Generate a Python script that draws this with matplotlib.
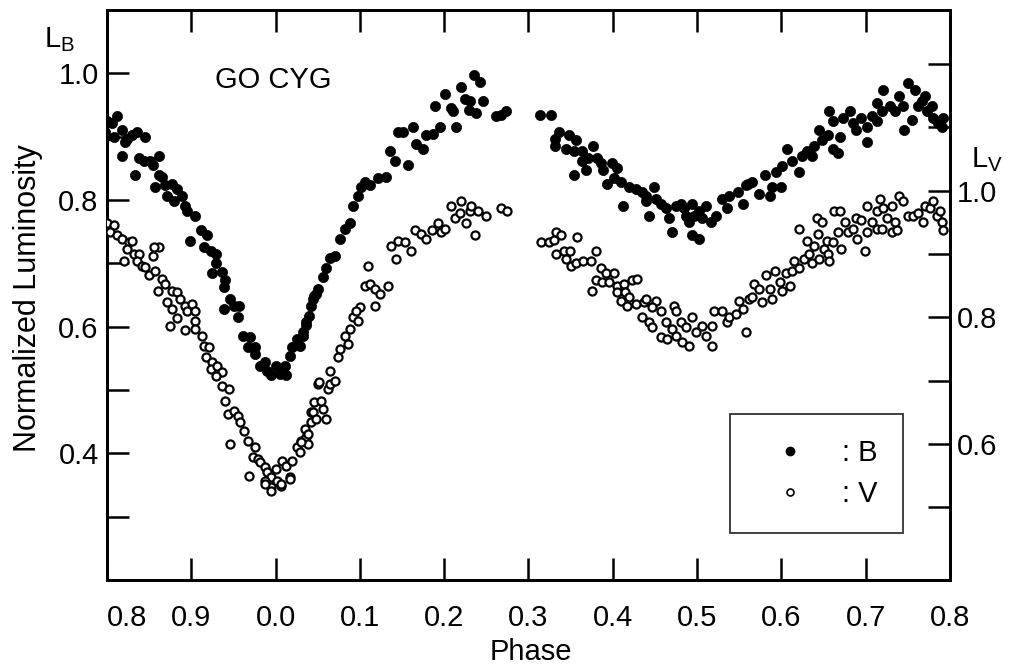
import matplotlib
matplotlib.use('Agg')
import matplotlib.pyplot as plt
from matplotlib.lines import Line2D
from matplotlib.ticker import FixedLocator

plt.rcParams['font.family'] = ['Liberation Sans', 'DejaVu Sans']
plt.rcParams['mathtext.fontset'] = 'custom'
plt.rcParams['mathtext.rm'] = 'Liberation Sans'

# Data: B band (filled), phase and normalized luminosity (left axis)
phase_b = [
    -0.202, -0.200, -0.194, -0.188, -0.182, -0.202, -0.192, -0.176, -0.170, -0.164,
    -0.155, -0.182, -0.179, -0.162, -0.156, -0.149, -0.138, -0.167, -0.146, -0.138,
    -0.135, -0.143, -0.131, -0.123, -0.117, -0.129, -0.120, -0.111, -0.107, -0.105,
    -0.096, -0.101, -0.089, -0.081, -0.085, -0.077, -0.071, -0.071, -0.075, -0.063,
    -0.060, -0.061, -0.054, -0.049, -0.061, -0.043, -0.045, -0.039, -0.030, -0.033,
    -0.024, -0.025, -0.018, -0.013, -0.010, -0.006, 0.000, 0.005, 0.011, 0.012,
    0.017, 0.020, 0.026, 0.032, 0.036, 0.040, 0.044, 0.048, 0.029, 0.032,
    0.036, 0.042, 0.046, 0.050, 0.056, 0.060, 0.065, 0.070, 0.076, 0.082,
    0.088, 0.092, 0.098, 0.101, 0.106, 0.112, 0.121, 0.131, 0.136, 0.142,
    0.157, 0.145, 0.151, 0.163, 0.167, 0.175, 0.179, 0.187, 0.195, 0.189,
    0.201, 0.208, 0.214, 0.211, 0.220, 0.225, 0.231, 0.229, 0.238, 0.235,
    0.243, 0.246, 0.262, 0.267, 0.273,
    0.314, 0.327, 0.336, 0.332, 0.348, 0.356, 0.331, 0.345, 0.354, 0.363,
    0.371, 0.377, 0.363, 0.368, 0.381, 0.386, 0.389, 0.399, 0.405, 0.354,
    0.393, 0.401, 0.410, 0.419, 0.427, 0.435, 0.439, 0.449, 0.440, 0.451,
    0.457, 0.412, 0.443, 0.463, 0.467, 0.470, 0.475, 0.481, 0.485, 0.487,
    0.494, 0.496, 0.490, 0.502, 0.506, 0.511, 0.517, 0.523, 0.494, 0.502,
    0.529, 0.535, 0.538, 0.548, 0.554, 0.560, 0.558, 0.565, 0.574, 0.580,
    0.586, 0.589, 0.600, 0.594, 0.601, 0.607, 0.613, 0.621, 0.624, 0.630,
    0.636, 0.639, 0.645, 0.648, 0.655, 0.657, 0.661, 0.667, 0.669, 0.661,
    0.673, 0.681, 0.685, 0.689, 0.695, 0.701, 0.702, 0.707, 0.713, 0.714,
    0.719, 0.720, 0.729, 0.735, 0.740, 0.744, 0.746, 0.750, 0.755, 0.758,
    0.762, 0.767, 0.770, 0.773, 0.779, 0.780, 0.786, 0.790, 0.792,
]
lum_b = [
    0.908, 0.924, 0.921, 0.932, 0.910, 0.900, 0.900, 0.897, 0.902, 0.908,
    0.900, 0.870, 0.892, 0.866, 0.862, 0.861, 0.870, 0.839, 0.855, 0.839,
    0.837, 0.821, 0.823, 0.826, 0.818, 0.806, 0.798, 0.807, 0.791, 0.782,
    0.775, 0.736, 0.752, 0.744, 0.726, 0.720, 0.715, 0.700, 0.684, 0.687,
    0.673, 0.663, 0.644, 0.633, 0.628, 0.632, 0.616, 0.586, 0.584, 0.568,
    0.568, 0.557, 0.538, 0.545, 0.530, 0.523, 0.538, 0.526, 0.538, 0.523,
    0.554, 0.568, 0.581, 0.592, 0.602, 0.617, 0.644, 0.652, 0.570, 0.586,
    0.608, 0.633, 0.649, 0.660, 0.679, 0.692, 0.708, 0.712, 0.739, 0.755,
    0.763, 0.791, 0.807, 0.821, 0.829, 0.823, 0.834, 0.837, 0.878, 0.861,
    0.855, 0.908, 0.908, 0.916, 0.889, 0.881, 0.902, 0.905, 0.916, 0.949,
    0.968, 0.945, 0.916, 0.940, 0.979, 0.960, 0.957, 0.942, 0.937, 0.997,
    0.987, 0.956, 0.932, 0.934, 0.940,
    0.935, 0.934, 0.908, 0.897, 0.902, 0.894, 0.885, 0.881, 0.877, 0.877,
    0.866, 0.885, 0.861, 0.847, 0.866, 0.858, 0.847, 0.858, 0.850, 0.839,
    0.826, 0.834, 0.829, 0.821, 0.818, 0.813, 0.806, 0.821, 0.799, 0.802,
    0.794, 0.791, 0.774, 0.787, 0.771, 0.750, 0.791, 0.794, 0.787, 0.775,
    0.794, 0.775, 0.766, 0.782, 0.771, 0.790, 0.766, 0.775, 0.744, 0.738,
    0.802, 0.787, 0.807, 0.813, 0.794, 0.826, 0.823, 0.829, 0.810, 0.839,
    0.807, 0.821, 0.821, 0.845, 0.853, 0.881, 0.861, 0.845, 0.869, 0.878,
    0.870, 0.886, 0.910, 0.894, 0.902, 0.940, 0.881, 0.874, 0.900, 0.924,
    0.929, 0.941, 0.921, 0.910, 0.929, 0.892, 0.916, 0.932, 0.924, 0.953,
    0.940, 0.973, 0.948, 0.941, 0.965, 0.949, 0.910, 0.984, 0.926, 0.973,
    0.949, 0.957, 0.965, 0.940, 0.948, 0.929, 0.921, 0.916, 0.929,
]

# V band (open), phase and normalized luminosity (right axis)
phase_v = [
    -0.202, -0.200, -0.192, -0.196, -0.188, -0.182, -0.174, -0.170, -0.176, -0.168,
    -0.162, -0.164, -0.158, -0.180, -0.155, -0.146, -0.138, -0.144, -0.150, -0.143,
    -0.135, -0.131, -0.140, -0.123, -0.117, -0.113, -0.129, -0.123, -0.108, -0.105,
    -0.099, -0.096, -0.117, -0.125, -0.095, -0.107, -0.096, -0.087, -0.085, -0.079,
    -0.083, -0.075, -0.077, -0.069, -0.063, -0.071, -0.063, -0.055, -0.060, -0.057,
    -0.049, -0.045, -0.042, -0.037, -0.033, -0.054, -0.025, -0.027, -0.021, -0.031,
    -0.018, -0.013, -0.010, -0.006, -0.013, -0.006, 0.002, 0.008, 0.006, 0.000,
    0.017, 0.012, 0.020, 0.026, 0.030, 0.029, 0.036, 0.038, 0.035, 0.042,
    0.042, 0.046, 0.050, -0.006, -0.012, 0.006, 0.017, 0.030, 0.038, 0.044,
    0.048, 0.056, 0.060, 0.054, 0.052, 0.062, 0.065, 0.064, 0.071, 0.074,
    0.077, 0.082, 0.086, 0.088, 0.092, 0.098, 0.100, 0.095, 0.106, 0.112,
    0.118, 0.124, 0.118, 0.133, 0.110, 0.137, 0.143, 0.145, 0.154, 0.161,
    0.165, 0.173, 0.179, 0.185, 0.193, 0.196, 0.201, 0.208, 0.213, 0.220,
    0.219, 0.226, 0.231, 0.232, 0.240, 0.237, 0.250, 0.267, 0.274,
    0.315, 0.324, 0.330, 0.333, 0.339, 0.358, 0.333, 0.342, 0.349, 0.344,
    0.351, 0.356, 0.365, 0.374, 0.380, 0.386, 0.392, 0.401, 0.380, 0.387,
    0.395, 0.375, 0.405, 0.413, 0.423, 0.429, 0.405, 0.415, 0.419, 0.410,
    0.417, 0.427, 0.437, 0.440, 0.451, 0.446, 0.457, 0.435, 0.443, 0.446,
    0.473, 0.475, 0.463, 0.470, 0.481, 0.487, 0.494, 0.457, 0.464, 0.475,
    0.482, 0.490, 0.499, 0.506, 0.511, 0.518, 0.518, 0.520, 0.529, 0.535,
    0.538, 0.546, 0.550, 0.554, 0.562, 0.558, 0.565, 0.568, 0.574, 0.577,
    0.582, 0.586, 0.589, 0.592, 0.598, 0.601, 0.606, 0.610, 0.613, 0.615,
    0.621, 0.621, 0.627, 0.630, 0.633, 0.636, 0.639, 0.642, 0.643, 0.648,
    0.645, 0.651, 0.654, 0.655, 0.657, 0.661, 0.663, 0.667, 0.669, 0.671,
    0.675, 0.679, 0.685, 0.689, 0.690, 0.695, 0.699, 0.701, 0.702, 0.708,
    0.713, 0.717, 0.714, 0.720, 0.725, 0.719, 0.731, 0.735, 0.731, 0.737,
    0.740, 0.744, 0.750, 0.756, 0.762, 0.768, 0.770, 0.776, 0.780, 0.785,
    0.788, 0.790, 0.792,
]
lum_v = [
    0.943, 0.948, 0.945, 0.935, 0.929, 0.924, 0.919, 0.921, 0.908, 0.900,
    0.900, 0.888, 0.881, 0.888, 0.880, 0.897, 0.911, 0.911, 0.866, 0.873,
    0.861, 0.853, 0.842, 0.842, 0.840, 0.829, 0.824, 0.813, 0.818, 0.809,
    0.821, 0.810, 0.798, 0.786, 0.794, 0.779, 0.782, 0.771, 0.755, 0.753,
    0.737, 0.729, 0.718, 0.723, 0.714, 0.707, 0.692, 0.687, 0.668, 0.647,
    0.652, 0.644, 0.635, 0.620, 0.604, 0.600, 0.595, 0.579, 0.576, 0.549,
    0.571, 0.563, 0.555, 0.548, 0.541, 0.532, 0.541, 0.573, 0.533, 0.560,
    0.548, 0.565, 0.573, 0.595, 0.604, 0.587, 0.611, 0.600, 0.623, 0.635,
    0.650, 0.666, 0.695, 0.525, 0.536, 0.536, 0.544, 0.603, 0.616, 0.650,
    0.639, 0.655, 0.639, 0.668, 0.698, 0.687, 0.695, 0.715, 0.699, 0.737,
    0.750, 0.771, 0.758, 0.782, 0.801, 0.794, 0.816, 0.809, 0.850, 0.853,
    0.845, 0.837, 0.818, 0.850, 0.881, 0.913, 0.892, 0.921, 0.919, 0.905,
    0.937, 0.932, 0.924, 0.937, 0.948, 0.935, 0.940, 0.976, 0.956, 0.983,
    0.964, 0.948, 0.968, 0.975, 0.968, 0.929, 0.960, 0.972, 0.967,
    0.918, 0.919, 0.922, 0.935, 0.930, 0.927, 0.899, 0.904, 0.904, 0.892,
    0.881, 0.885, 0.889, 0.888, 0.904, 0.877, 0.869, 0.869, 0.858, 0.856,
    0.856, 0.842, 0.850, 0.853, 0.858, 0.861, 0.840, 0.840, 0.832, 0.826,
    0.818, 0.821, 0.824, 0.829, 0.826, 0.816, 0.810, 0.801, 0.793, 0.785,
    0.818, 0.809, 0.793, 0.782, 0.793, 0.785, 0.801, 0.769, 0.766, 0.771,
    0.761, 0.755, 0.777, 0.786, 0.771, 0.786, 0.755, 0.810, 0.809, 0.793,
    0.801, 0.805, 0.826, 0.813, 0.829, 0.777, 0.832, 0.853, 0.845, 0.824,
    0.866, 0.845, 0.829, 0.873, 0.856, 0.842, 0.869, 0.850, 0.873, 0.889,
    0.877, 0.940, 0.892, 0.921, 0.900, 0.885, 0.913, 0.956, 0.932, 0.951,
    0.892, 0.908, 0.921, 0.900, 0.888, 0.919, 0.967, 0.935, 0.967, 0.908,
    0.951, 0.935, 0.940, 0.956, 0.924, 0.953, 0.905, 0.935, 0.975, 0.951,
    0.940, 0.987, 0.967, 0.972, 0.956, 0.940, 0.976, 0.951, 0.935, 0.937,
    0.992, 0.984, 0.960, 0.960, 0.964, 0.951, 0.976, 0.972, 0.983, 0.960,
    0.967, 0.951, 0.937,
]

phase_ticks = [-0.2, -0.1, 0.0, 0.1, 0.2, 0.3, 0.4, 0.5, 0.6, 0.7, 0.8]
phase_labels = ['0.8', '0.9', '0.0', '0.1', '0.2', '0.3', '0.4', '0.5', '0.6', '0.7', '0.8']

fig = plt.figure(figsize=(10.16, 6.67), dpi=100)
ax = fig.add_axes([0.1053, 0.1304, 0.8297, 0.8546])
ax2 = ax.twinx()

ax.scatter(phase_b, lum_b, s=54, c='black', edgecolors='black', linewidths=0.5, zorder=3)
ax2.scatter(phase_v, lum_v, s=34, facecolors='white', edgecolors='black', linewidths=1.6, zorder=3)

ax.set_xlim(-0.2, 0.8)
ax.set_ylim(0.2, 1.1)
ax2.set_ylim(0.385, 1.285)

ax.set_xticks(phase_ticks)
ax.set_xticklabels(phase_labels)
ax.xaxis.get_ticklabels()[0].set_horizontalalignment('left')

ax.yaxis.set_major_locator(FixedLocator([0.4, 0.6, 0.8, 1.0]))
ax.yaxis.set_minor_locator(FixedLocator([0.3, 0.5, 0.7, 0.9]))
ax2.yaxis.set_major_locator(FixedLocator([0.6, 0.8, 1.0]))
ax2.yaxis.set_minor_locator(FixedLocator([0.5, 0.7, 0.9, 1.1, 1.2]))

ax.tick_params(axis='x', which='both', direction='in', length=16, width=1.8,
               top=True, labelsize=21, pad=17)
ax.tick_params(axis='y', which='both', direction='in', length=16, width=1.8,
               labelsize=21, pad=6)
ax2.tick_params(axis='y', which='both', direction='in', length=16, width=1.8,
                labelsize=21, pad=5)
ax.yaxis.set_major_formatter(plt.FuncFormatter(lambda v, p: f'{v:.1f}'))
ax2.yaxis.set_major_formatter(plt.FuncFormatter(lambda v, p: f'{v:.1f}'))

for a in (ax, ax2):
    for sp in a.spines.values():
        sp.set_linewidth(2.0)

ax.text(-0.094, 0.495, 'Normalized Luminosity', transform=ax.transAxes, rotation=90,
        ha='center', va='center', fontsize=22)
fig.text(0.523, 0.022, 'Phase', ha='center', va='center', fontsize=21)
fig.text(0.059, 0.94, r'$\mathregular{L_B}$', ha='center', va='center', fontsize=21)
fig.text(0.971, 0.76, r'$\mathregular{L_V}$', ha='center', va='center', fontsize=21)
ax.text(0.197, 0.877, 'GO CYG', transform=ax.transAxes, ha='center', va='center', fontsize=21)

handles = [
    Line2D([], [], ls='none', marker='o', ms=6, mfc='black', mec='black'),
    Line2D([], [], ls='none', marker='o', ms=5, mfc='white', mec='black', mew=1.2),
]
leg = ax.legend(handles, [': B', ': V'], loc='lower left', bbox_to_anchor=(0.739, 0.0825),
                bbox_transform=ax.transAxes, frameon=True, fancybox=False, fontsize=21,
                numpoints=1, handlelength=2.4, handletextpad=0.6, borderpad=0.85,
                labelspacing=0.45, borderaxespad=0)
leg.get_frame().set_edgecolor('black')
leg.get_frame().set_linewidth(1.3)
leg.set_zorder(5)

fig.savefig('out.png', dpi=100)
